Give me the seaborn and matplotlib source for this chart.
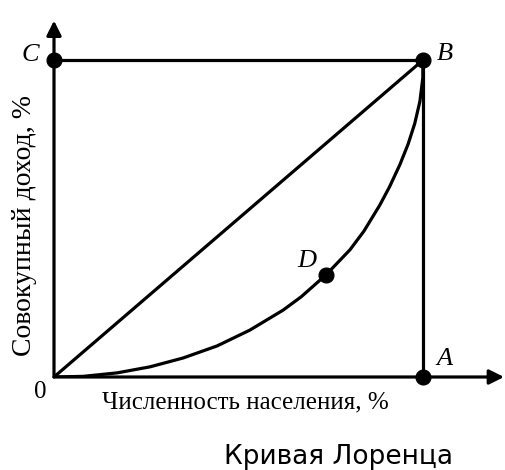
import matplotlib
matplotlib.use('Agg')
import matplotlib.pyplot as plt
import seaborn as sns
import pandas as pd

# Кривая Лоренца: точки (% населения, % дохода)
pop_share = [0, 7.9, 17.1, 26.0, 35.0, 44.2, 53.1, 62.1, 67.0, 73.7, 80.2, 84.0, 88.3,
             91.0, 93.8, 96.0, 97.8, 99.2, 100, 100]
income_share = [0, 0.2, 1.3, 3.2, 6.0, 9.8, 14.8, 21.1, 25.3, 32.2, 40.1, 46.0, 54.2,
                60.1, 67.1, 73.5, 80.0, 87.0, 94.5, 100]

# линия абсолютного равенства 0-B и ломаная C-B-A
equal_x = [0, 100]
equal_y = [0, 100]
frame_x = [0, 100, 100]
frame_y = [100, 100, 0]

# отмеченные точки
point_names = ['C', 'B', 'A', 'D']
point_x = [0, 100, 100, 73.7]
point_y = [100, 100, 0, 32.2]

sns.set_style('white')
serif = ['Liberation Serif', 'DejaVu Serif']

fig = plt.figure(figsize=(5.05, 4.70), dpi=100)
ax = fig.add_axes([54 / 505, 93 / 470, 450 / 505, 358 / 470])
ax.set_xlim(0, 122)
ax.set_ylim(0, 113)
ax.axis('off')

curve = pd.DataFrame({'x': pop_share, 'y': income_share})
sns.lineplot(data=curve, x='x', y='y', estimator=None, sort=False,
             color='black', lw=2.3, ax=ax)
sns.lineplot(x=equal_x, y=equal_y, estimator=None, sort=False, color='black', lw=2.3, ax=ax)
sns.lineplot(x=frame_x, y=frame_y, estimator=None, sort=False, color='black', lw=2.3, ax=ax)

# оси со стрелками
arrow = dict(arrowstyle='-|>', lw=2.3, color='black', mutation_scale=22, shrinkA=0, shrinkB=0)
ax.annotate('', xy=(122, 0), xytext=(0, 0), arrowprops=arrow, annotation_clip=False)
ax.annotate('', xy=(0, 112.5), xytext=(0, 0), arrowprops=arrow, annotation_clip=False)

pts = sns.scatterplot(x=point_x, y=point_y, color='black', s=115, edgecolor='black', ax=ax, zorder=5)
for c in pts.collections:
    c.set_clip_on(False)

lab = dict(fontsize=19, family=serif, style='italic', color='black')
ax.text(-6.3, 101.5, 'C', ha='center', va='center', **lab)
ax.text(106, 102, 'B', ha='center', va='center', **lab)
ax.text(106, 5.8, 'A', ha='center', va='center', **lab)
ax.text(68.5, 36.6, 'D', ha='center', va='center', **lab)
ax.text(-3.8, -4.8, '0', ha='center', va='center', fontsize=18, family=serif, color='black')

fig.text(245 / 505, 1 - 402 / 470, 'Численность населения, %', ha='center', va='center',
         fontsize=18, family=serif, color='black')
fig.text(25 / 505, 1 - 225 / 470, 'Совокупный доход, %', ha='center', va='center',
         rotation=90, fontsize=20, family=serif, color='black')
fig.text(339 / 505, 1 - 457 / 470, 'Кривая Лоренца', ha='center', va='center',
         fontsize=19, family=['DejaVu Sans'], color='black')

fig.savefig('out.png', dpi=100)
